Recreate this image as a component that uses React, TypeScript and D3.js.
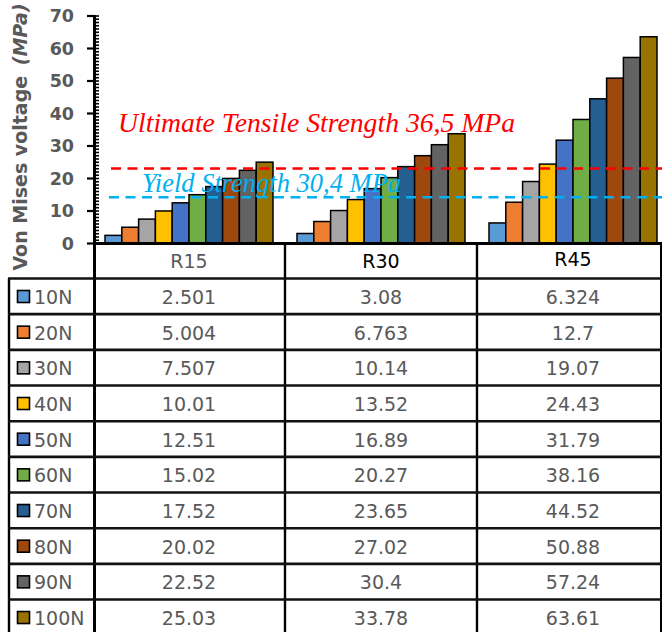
import React from "react";
import * as d3 from "d3";

const categories = ["R15", "R30", "R45"];
const seriesNames = ["10N", "20N", "30N", "40N", "50N", "60N", "70N", "80N", "90N", "100N"];
const seriesColors = ["#5B9BD5", "#ED7D31", "#A5A5A5", "#FFC000", "#4472C4", "#70AD47", "#255E91", "#9E480E", "#636363", "#997300"];
const values10N = [2.501, 3.08, 6.324];
const values20N = [5.004, 6.763, 12.7];
const values30N = [7.507, 10.14, 19.07];
const values40N = [10.01, 13.52, 24.43];
const values50N = [12.51, 16.89, 31.79];
const values60N = [15.02, 20.27, 38.16];
const values70N = [17.52, 23.65, 44.52];
const values80N = [20.02, 27.02, 50.88];
const values90N = [22.52, 30.4, 57.24];
const values100N = [25.03, 33.78, 63.61];
const valueLabels10N = ["2.501", "3.08", "6.324"];
const valueLabels20N = ["5.004", "6.763", "12.7"];
const valueLabels30N = ["7.507", "10.14", "19.07"];
const valueLabels40N = ["10.01", "13.52", "24.43"];
const valueLabels50N = ["12.51", "16.89", "31.79"];
const valueLabels60N = ["15.02", "20.27", "38.16"];
const valueLabels70N = ["17.52", "23.65", "44.52"];
const valueLabels80N = ["20.02", "27.02", "50.88"];
const valueLabels90N = ["22.52", "30.4", "57.24"];
const valueLabels100N = ["25.03", "33.78", "63.61"];
const yTicks = [0, 10, 20, 30, 40, 50, 60, 70];
const ultimateValue = 23.1;
const yieldValue = 14.2;
const ultimateLabel = "Ultimate Tensile Strength 36,5 MPa";
const yieldLabel = "Yield Strength 30,4 MPa";

const allValues = [values10N, values20N, values30N, values40N, values50N, values60N, values70N, values80N, values90N, values100N];
const allLabels = [valueLabels10N, valueLabels20N, valueLabels30N, valueLabels40N, valueLabels50N, valueLabels60N, valueLabels70N, valueLabels80N, valueLabels90N, valueLabels100N];

export default function App() {
  const W = 662, H = 632;
  const axisX = 94.5;
  const y0 = 243.5;
  const y = d3.scaleLinear().domain([0, 70]).range([y0, 16]);
  const xCat = d3.scaleBand().domain(categories).range([93, 669]).padding(0);
  const xSer = d3.scaleBand().domain(seriesNames).range([12, 180]).padding(0);
  const minorTicks = d3.range(0, 71, 1);
  const rowTop0 = 278.5;
  const rowH = 35.67;
  const sans = "DejaVu Sans, Verdana, sans-serif";
  const serif = "Liberation Serif, Times New Roman, serif";
  const grey = "#595959";

  return (
    <div style={{ position: "absolute", left: 0, top: 0 }}>
      <svg width={W} height={H} style={{ display: "block" }}>
        <defs>
          <clipPath id="clip">
            <rect x={0} y={0} width={W} height={H} />
          </clipPath>
        </defs>
        <rect x={0} y={0} width={W} height={H} fill="#fff" />
        <g clipPath="url(#clip)">
          {/* bars */}
          {allValues.map((vals, si) =>
            categories.map((c, ci) => (
              <rect
                key={si + "-" + ci}
                x={(xCat(c) as number) + (xSer(seriesNames[si]) as number)}
                y={y(vals[ci])}
                width={xSer.bandwidth()}
                height={y0 - y(vals[ci])}
                fill={seriesColors[si]}
                stroke="#000"
                strokeWidth={1.5}
              />
            ))
          )}
          {/* reference lines */}
          <line x1={111} x2={W} y1={y(ultimateValue)} y2={y(ultimateValue)} stroke="#FF0000" strokeWidth={2.5} strokeDasharray="10 6.5" />
          <line x1={109} x2={W} y1={y(yieldValue)} y2={y(yieldValue)} stroke="#00B0F0" strokeWidth={2.5} strokeDasharray="10 6.5" />
          <text x={118} y={132} fill="#FF0000" fontFamily={serif} fontStyle="italic" fontSize={27.7}>{ultimateLabel}</text>
          <text x={142} y={192} fill="#00B0F0" fontFamily={serif} fontStyle="italic" fontSize={26.5}>{yieldLabel}</text>

          {/* y axis */}
          {minorTicks.map((t) => (
            <line key={"m" + t} x1={axisX} x2={axisX + 4.5} y1={y(t)} y2={y(t)} stroke="#000" strokeWidth={1.6} />
          ))}
          {yTicks.map((t) => (
            <g key={"t" + t}>
              <line x1={87} x2={axisX} y1={y(t)} y2={y(t)} stroke="#000" strokeWidth={2.2} />
              <text x={74} y={y(t) + 6.2} textAnchor="end" fill={grey} fontFamily={sans} fontWeight="bold" fontSize={17.5}>{t}</text>
            </g>
          ))}
          <text transform={`translate(26.5,137) rotate(-90)`} textAnchor="middle" fill={grey} fontFamily={sans} fontWeight="bold" fontSize={19}>
            Von Mises voltage <tspan fontStyle="italic" dx={4}>(MPa)</tspan>
          </text>

          {/* table grid */}
          <line x1={axisX} x2={axisX} y1={15} y2={H} stroke="#000" strokeWidth={3} />
          <line x1={93} x2={W} y1={y0} y2={y0} stroke="#000" strokeWidth={3} />
          {categories.slice(1).map((c) => (
            <line key={"v" + c} x1={(xCat(c) as number)} x2={(xCat(c) as number)} y1={y0} y2={H} stroke="#000" strokeWidth={2.4} />
          ))}
          <line x1={661} x2={661} y1={y0} y2={H} stroke="#000" strokeWidth={2} />
          <line x1={9} x2={9} y1={rowTop0} y2={H} stroke="#000" strokeWidth={2.4} />
          {seriesNames.map((s, si) => (
            <line key={"h" + s} x1={8} x2={W} y1={rowTop0 + si * rowH} y2={rowTop0 + si * rowH} stroke="#111" strokeWidth={2.6} />
          ))}

          {/* header */}
          {categories.map((c, ci) => (
            <text
              key={"hd" + c}
              x={(xCat(c) as number) + xCat.bandwidth() / 2}
              y={ci === 2 ? 265.5 : 268}
              textAnchor="middle"
              fill={ci === 0 ? grey : "#000"}
              fontFamily={sans}
              fontSize={19}
            >
              {c}
            </text>
          ))}

          {/* rows */}
          {seriesNames.map((s, si) => {
            const top = rowTop0 + si * rowH;
            return (
              <g key={"r" + s}>
                <rect x={17.5} y={top + 12} width={12} height={12} fill={seriesColors[si]} stroke="#000" strokeWidth={1.6} />
                <text x={34} y={top + 25.5} fill={grey} fontFamily={sans} fontSize={19}>{s}</text>
                {categories.map((c, ci) => (
                  <text
                    key={"c" + ci}
                    x={(xCat(c) as number) + xCat.bandwidth() / 2}
                    y={top + 25.5}
                    textAnchor="middle"
                    fill={grey}
                    fontFamily={sans}
                    fontSize={19}
                  >
                    {allLabels[si][ci]}
                  </text>
                ))}
              </g>
            );
          })}
        </g>
      </svg>
    </div>
  );
}
